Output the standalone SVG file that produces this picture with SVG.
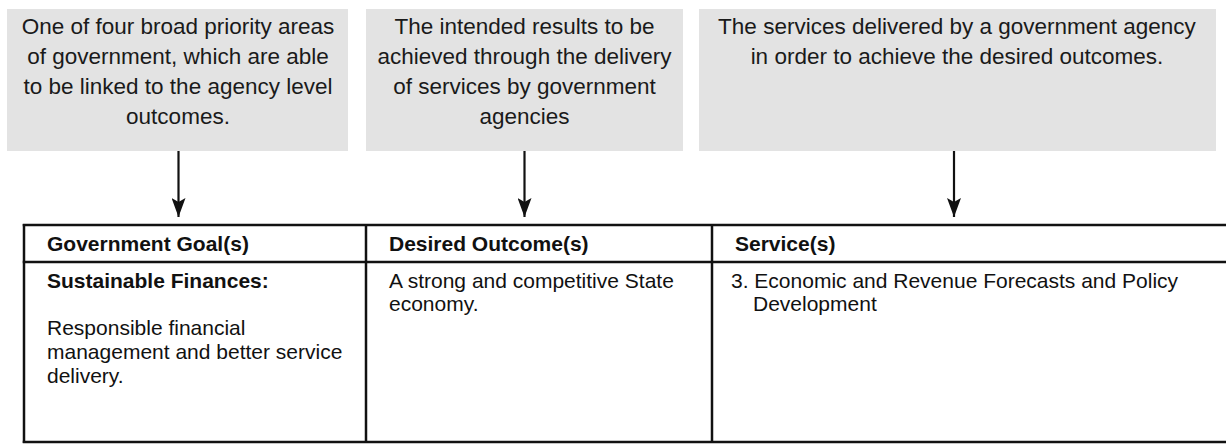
<svg xmlns="http://www.w3.org/2000/svg" width="1226" height="444" viewBox="0 0 1226 444">
  <style>
    .box { fill: #e3e3e3; }
    .note { font-family: "Liberation Sans", Arial, sans-serif; font-size: 22.5px; fill: #1a1a1a; text-anchor: middle; }
    .cell { font-family: "Liberation Sans", Arial, sans-serif; font-size: 21px; fill: #111; }
    .bold { font-weight: bold; }
    .rule { stroke: #111; stroke-width: 2.5; fill: none; }
    .conn { stroke: #111; stroke-width: 2.2; fill: none; }
  </style>
  <defs>
    <marker id="arrow" markerUnits="userSpaceOnUse" viewBox="0 0 19 14" refX="19" refY="7" markerWidth="19" markerHeight="14" orient="auto">
      <path d="M0,0 L19,7 L0,14 L4,7 Z" fill="#111"/>
    </marker>
  </defs>
  <rect width="1226" height="444" fill="#ffffff"/>

  <g id="note-goal">
    <rect class="box" x="7" y="9" width="341" height="142"/>
    <text class="note" x="178" y="34">One of four broad priority areas</text>
    <text class="note" x="178" y="64">of government, which are able</text>
    <text class="note" x="178" y="94">to be linked to the agency level</text>
    <text class="note" x="178" y="124">outcomes.</text>
  </g>

  <g id="note-outcome">
    <rect class="box" x="366" y="9" width="317" height="142"/>
    <text class="note" x="524.5" y="34">The intended results to be</text>
    <text class="note" x="524.5" y="64">achieved through the delivery</text>
    <text class="note" x="524.5" y="94">of services by government</text>
    <text class="note" x="524.5" y="124">agencies</text>
  </g>

  <g id="note-service">
    <rect class="box" x="699" y="9" width="517" height="142"/>
    <text class="note" x="957" y="34">The services delivered by a government agency</text>
    <text class="note" x="957" y="64">in order to achieve the desired outcomes.</text>
  </g>

  <g id="connectors">
    <line class="conn" x1="178.5" y1="151" x2="178.5" y2="217" marker-end="url(#arrow)"/>
    <line class="conn" x1="524.5" y1="151" x2="524.5" y2="217" marker-end="url(#arrow)"/>
    <line class="conn" x1="954" y1="151" x2="954" y2="217" marker-end="url(#arrow)"/>
  </g>

  <g id="table">
    <line class="rule" x1="22.75" y1="225" x2="1230" y2="225"/>
    <line class="rule" x1="22.75" y1="262" x2="1230" y2="262"/>
    <line class="rule" x1="22.75" y1="442" x2="1230" y2="442"/>
    <line class="rule" x1="24" y1="224" x2="24" y2="443"/>
    <line class="rule" x1="366" y1="224" x2="366" y2="443"/>
    <line class="rule" x1="712" y1="224" x2="712" y2="443"/>
  </g>

  <g id="col-goal">
    <text class="cell bold" x="47" y="251">Government Goal(s)</text>
    <text class="cell bold" x="47" y="288">Sustainable Finances:</text>
    <text class="cell" x="47" y="335">Responsible financial</text>
    <text class="cell" x="47" y="359">management and better service</text>
    <text class="cell" x="47" y="383">delivery.</text>
  </g>

  <g id="col-outcome">
    <text class="cell bold" x="389" y="251">Desired Outcome(s)</text>
    <text class="cell" x="389" y="288">A strong and competitive State</text>
    <text class="cell" x="389" y="311">economy.</text>
  </g>

  <g id="col-service">
    <text class="cell bold" x="735" y="251">Service(s)</text>
    <text class="cell" x="731" y="288">3. Economic and Revenue Forecasts and Policy</text>
    <text class="cell" x="753" y="311">Development</text>
  </g>
</svg>
